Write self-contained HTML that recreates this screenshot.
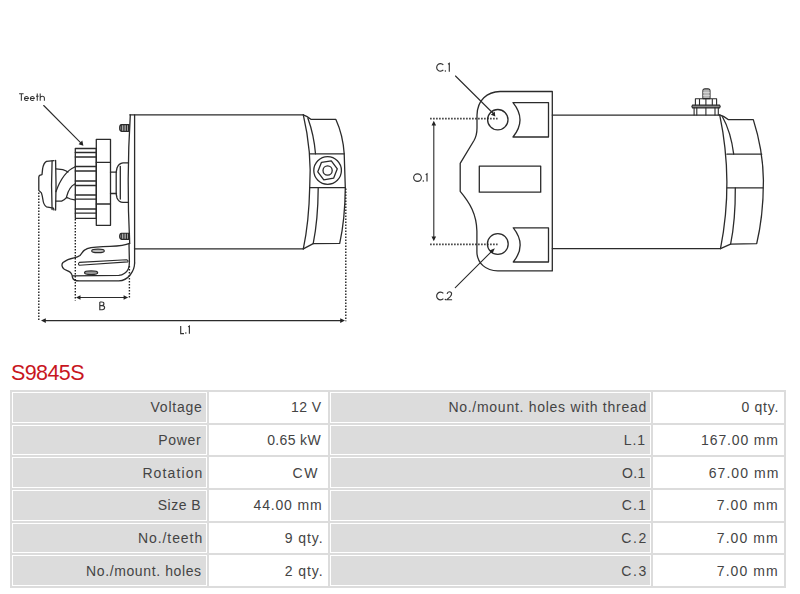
<!DOCTYPE html>
<html><head><meta charset="utf-8">
<style>
html,body{margin:0;padding:0;background:#fff;width:800px;height:594px;overflow:hidden;position:relative;font-family:"Liberation Sans",sans-serif;}
#title{position:absolute;left:11px;top:359px;font-size:21.5px;letter-spacing:-0.6px;line-height:28px;color:#c8161e;white-space:nowrap;}
#tbl{position:absolute;left:10px;top:390px;width:776px;height:198px;background:#dcdcdc;}
.c{position:absolute;box-sizing:border-box;height:31px;border:1px solid #fff;}
.l{background:#dcdcdc;}
.v{background:#fff;}
.t{position:absolute;font-size:14px;line-height:20px;color:#444;white-space:pre;}
svg{position:absolute;left:0;top:0;}
</style></head><body>
<svg width="800" height="360" viewBox="0 0 800 360">
<!-- ===== LEFT DRAWING ===== -->
<g fill="none" stroke="#2b2b2b" stroke-width="1.3" stroke-linejoin="round" stroke-linecap="round">
<!-- housing -->
<path d="M129.8,114.8 L303.3,114.8"/>
<path d="M134.5,248.8 L303.3,248.8"/>
<!-- end plate -->
<path d="M130.3,115 Q126.4,179 129.7,243.5"/>
<path d="M134.6,115 L134.6,263"/>
<!-- end cap -->
<path d="M303.3,114.8 Q312,152 309.7,187.6 Q309,222 303.3,248.9"/>
<path d="M303.3,114.8 Q307,116 311.2,119.4 L335.9,119.4 Q343,135 344.2,153.8"/>
<path d="M307.9,118.2 Q314,135 315.5,153.8"/>
<path d="M309.7,153.8 L344.2,153.8 L345.3,187.6 L309.7,187.6"/>
<path d="M318.2,188.3 Q318,220 313.2,243.6 L303.3,248.9"/>
<path d="M313.2,243.6 L339.7,243.3 Q345,220 345.3,187.6"/>
<circle cx="327.6" cy="170.5" r="13.8"/>
<path d="M321.5,162.3 L331.3,160.8 L337.3,168.8 L333.6,178.2 L323.8,179.8 L317.8,171.8 Z"/>
<circle cx="327.6" cy="170.5" r="4.6"/>
<!-- bolts -->
<path d="M129.3,124.6 L121.5,124.6 Q119.6,124.8 119.6,128 Q119.6,131.2 121.5,131.4 L129.3,131.4 Z M121.3,125 V131 M123.9,125 V131 M126.4,125 V131 M128.5,125 V131" stroke-width="1.1" fill="#aaa"/>
<path d="M129.5,233.2 L121.5,233.2 Q119.6,233.4 119.6,236.3 Q119.6,239.2 121.5,239.4 L129.5,239.4 Z M121.3,233.6 V239 M123.9,233.6 V239 M126.4,233.6 V239 M128.5,233.6 V239" stroke-width="1.1" fill="#aaa"/>
<!-- boss -->
<path d="M128.5,162.8 L123,162.8 Q118.8,163.2 117,168 L116.2,172 L116.2,194 L117,198 Q118.8,202.2 123,202.4 L128.5,202.4"/>
<path d="M120.3,166.5 L120.3,199"/>
<path d="M110.5,172.2 L116.5,172.2 M110.5,193.5 L116.5,193.5"/>
<!-- flange -->
<rect x="96.3" y="139.3" width="14.2" height="86"/>
<path d="M96.3,162.4 H110.5 M96.3,204 H110.5"/>
<!-- gear -->
<rect x="75.3" y="148.5" width="21" height="69.8"/>
<path d="M75.3,152.5 H96.3 M75.3,157 H96.3 M75.3,166.5 H96.3 M75.3,171 H96.3 M75.3,181 H96.3 M75.3,185.5 H96.3 M75.3,195 H96.3 M75.3,199.2 H96.3 M75.3,209 H96.3 M75.3,213.2 H96.3"/>
<!-- pinion -->
<path d="M54,160.7 L46.4,161.4 Q43.6,163 42.6,168.9 L42,174.6 L39.5,175.3 L38.8,177.1 L38.8,190.4 L41.4,192.9 Q42.4,196 42.8,199 Q43.5,205 46.4,206.8 L53.4,208.1 L54,210"/>
<path d="M52.1,161 Q51,185 52.1,209.5 M55.6,160.3 Q56.5,185 55.6,210"/>
<path d="M55.9,168.9 L62.8,169.6 Q66,170.5 67.9,172.1"/>
<path d="M55.9,191.7 Q63,172 74.8,167"/>
<path d="M66.6,196.7 Q69,187 74.8,184"/>
<path d="M55.9,201.1 L61.6,201.1 Q64.5,200 66.6,197.3 Q70,199.5 74.8,199.9"/>
<!-- bracket -->
<path d="M129.6,243.3 C127,244.5 122,245.8 110,246.4 L102.8,246.7 C95,247 88,247.5 84.8,249.9 C83,251 82,253 80,255.5 C78,257 76,257.5 74.1,257.8 C70,258.5 66,260 63,262.5 C61.5,264 61.5,267 64,269 C66,270.5 69,271 70.5,272.5 C72,274 72.5,275.5 72.5,277.5 C73,279.5 74,280.9 79.4,280.9 L118.8,280.9 C123,280.9 127,279 130.5,274.5 C133.5,270.5 134.6,268 134.6,263"/>
<path d="M72.5,275.9 L118.8,275.4 C123,275.2 127,272 128.3,269 C129.2,267 129.4,265 129.4,262 L129,243.5"/>
<path d="M79.4,262.4 L126.5,259.8 Q128.8,260.6 127.8,261.9 L79.4,265.3 Q77.6,263.9 79.4,262.4 Z" stroke-width="1.1"/>
<ellipse cx="98" cy="250.9" rx="6.3" ry="1.7" stroke-width="1.2" fill="#bbb"/>
<ellipse cx="91.1" cy="272.7" rx="6.6" ry="1.8" stroke-width="1.2" fill="#999"/>
<!-- teeth arrow -->
<path d="M43.7,105.5 L80.8,142.8" stroke-width="1.1"/>
<!-- dims -->
<path d="M80,297.5 L124,297.5 M45,320.6 L341,320.6" stroke-width="1.1"/>
</g>
<g fill="#222">
<path d="M83.4,145.8 L78.6,144.3 L82.3,140.6 Z"/>
<path d="M76,297.5 L80.5,295.3 L80.5,299.7 Z M128.1,297.5 L123.6,295.3 L123.6,299.7 Z"/>
<path d="M41,320.6 L45.8,318.2 L45.8,323 Z M345,320.6 L340.2,318.2 L340.2,323 Z"/>
</g>
<g fill="none" stroke="#222" stroke-width="1.4" stroke-dasharray="1.4 1.6">
<path d="M38.8,192.5 V321.3 M75.3,219 V300.6 M129.4,266 V299 M345.8,188.5 V321.3"/>
</g>
<g fill="none" stroke="#333" stroke-width="1.05"><path d="M19.1,93.7 H23.6 M21.35,93.7 V100.8"/><path d="M24.45,98.55 H28.45 A2.0,2.0 0 1 0 28.05,99.75"/><path d="M30.35,98.55 H34.35 A2.0,2.0 0 1 0 33.95,99.75"/><path d="M37.25,93.6 V100.8 M36,96.3 H38.6"/><path d="M40.2,93.4 V100.8 M40.2,98 Q40.6,96.3 42.3,96.3 Q44.4,96.3 44.4,98.3 V100.8"/>
</g>
<!-- ===== RIGHT DRAWING ===== -->
<g fill="none" stroke="#2b2b2b" stroke-width="1.3" stroke-linejoin="round" stroke-linecap="round">
<path d="M500,91.5 C487,92 477.5,100 477,115 L477,128 C477,133 476,137 474,140.5 L460.2,163.3 L460.2,191.3 C470,203 476.5,214 476.9,231 L476.9,252 C477,263 486,271 498,270.9 L552.3,270.9 L552.3,91.5 Z"/>
<path d="M513,102.6 L548.5,102.6 L548.5,137 L513,137 Q527,119.8 513,102.6 Z"/>
<path d="M513.3,227.8 L548.5,227.8 L548.5,262 L513.3,262 Q527,244.9 513.3,227.8 Z"/>
<rect x="479.3" y="166.1" width="61.4" height="26.1"/>
<circle cx="497.8" cy="119.7" r="10.2"/>
<circle cx="497.8" cy="244" r="10.4"/>
<!-- housing -->
<path d="M552.3,115.1 L719.7,115.1 M552.3,248.6 L720.5,248.6"/>
<!-- end cap -->
<path d="M719.7,114.8 Q733.7,181.7 720.5,248.6"/>
<path d="M719.7,114.8 Q724,116 728.1,119.6 L753.3,119.6 Q763,150 763.4,180 Q763.5,215 756.7,243.6 L730.6,244.1 L720.5,248.6"/>
<path d="M722.2,116.2 Q731,132 733.7,154.2"/>
<path d="M735.3,187.9 Q735.5,220 730.6,244.1"/>
<path d="M726.9,154.2 L761.7,154.2 M727.3,187.9 L763,187.9"/>
<!-- terminal -->
<path d="M702.9,98.6 L702.9,90.8 Q702.9,88.8 705,88.8 L708,88.8 Q710,88.8 710,90.8 L710,98.6 Z" stroke-width="1.1" fill="#999"/>
<path d="M703.4,91 H709.5 M703.4,92.5 H709.5 M703.4,94 H709.5 M703.4,95.5 H709.5 M703.4,97 H709.5" stroke-width="0.7" stroke="#eee"/>
<path d="M695.4,105.4 L695.4,98.8 L716.6,98.8 L716.6,105.4 M699.5,98.8 V105.4 M705.9,98.8 V105.4 M712.3,98.8 V105.4" stroke-width="1.1"/>
<path d="M692.5,105.2 L719.6,105.2 Q720.8,106.5 719.6,107.9 L692.5,107.9 Q691.3,106.5 692.5,105.2 Z" stroke-width="1.2" fill="#888"/>
<path d="M694.1,107.9 V115 M696.8,107.9 V115 M705.9,107.9 V115 M715,107.9 V115 M718.3,107.9 V115" stroke-width="1.1"/>
<!-- arrows -->
<path d="M455.5,76 L492.8,113 M455.3,287.7 L492.2,250.8 M433.8,125 L433.8,237" stroke-width="1.1"/>
</g>
<g fill="#222">
<path d="M495.3,116.4 L490.9,114.7 L494.7,111.4 Z"/>
<path d="M494.8,248.2 L492.5,253.4 L489.6,250.5 Z"/>
<path d="M433.8,120.7 L431.5,125.5 L436.1,125.5 Z M433.8,241.3 L431.5,236.5 L436.1,236.5 Z"/>
</g>
<g fill="none" stroke="#222" stroke-width="1.4" stroke-dasharray="1.4 1.6">
<path d="M430.2,118.6 H497.5 M430.2,244.4 H497.5" stroke-width="1.6"/>
</g>
<g fill="none" stroke="#333" stroke-width="1.15" stroke-linecap="butt" stroke-linejoin="miter">
<path d="M443.32,64.86 A3.8,3.8 0 1 0 443.32,69.94"/>
<path d="M448.00,64.30 L449.30,63.40 L449.30,71.70"/>
<ellipse cx="417.5" cy="177.6" rx="3.85" ry="3.75"/>
<path d="M425.70,174.70 L427.00,173.80 L427.00,181.60"/>
<path d="M443.36,293.42 A3.85,3.85 0 1 0 443.36,298.58"/>
<path d="M447.1,294 Q447.5,291.7 449.3,291.7 Q451.6,291.7 451.6,293.8 Q451.6,295.2 450,296.8 L446.9,299.7 L452.1,299.7"/>
<path d="M180.7,326 L180.7,333.6 L184,333.6"/>
<path d="M188.10,326.90 L189.40,326.00 L189.40,333.70"/>
<path d="M99.8,302 L99.8,309.7 L102.2,309.7 Q104.6,309.7 104.6,307.6 Q104.6,305.6 102,305.6 L99.8,305.6 M99.8,302 L101.8,302 Q103.9,302 103.9,303.8 Q103.9,305.6 101.8,305.6"/>
</g>
<g fill="#333"><circle cx="445.4" cy="71.0" r="0.75"/><circle cx="423.3" cy="181.0" r="0.75"/><circle cx="445.4" cy="299.4" r="0.75"/><circle cx="185.8" cy="333.0" r="0.75"/></g>
</svg>

<div id="title">S9845S</div>
<div id="tbl"></div>
<div class="c l" style="left:12px;top:392px;width:195px;height:31px"></div>
<div class="c v" style="left:209px;top:392px;width:119px;height:31px"></div>
<div class="c l" style="left:330px;top:392px;width:321px;height:31px"></div>
<div class="c v" style="left:653px;top:392px;width:131px;height:31px"></div>
<div class="c l" style="left:12px;top:425px;width:195px;height:30px"></div>
<div class="c v" style="left:209px;top:425px;width:119px;height:30px"></div>
<div class="c l" style="left:330px;top:425px;width:321px;height:30px"></div>
<div class="c v" style="left:653px;top:425px;width:131px;height:30px"></div>
<div class="c l" style="left:12px;top:457px;width:195px;height:31px"></div>
<div class="c v" style="left:209px;top:457px;width:119px;height:31px"></div>
<div class="c l" style="left:330px;top:457px;width:321px;height:31px"></div>
<div class="c v" style="left:653px;top:457px;width:131px;height:31px"></div>
<div class="c l" style="left:12px;top:490px;width:195px;height:31px"></div>
<div class="c v" style="left:209px;top:490px;width:119px;height:31px"></div>
<div class="c l" style="left:330px;top:490px;width:321px;height:31px"></div>
<div class="c v" style="left:653px;top:490px;width:131px;height:31px"></div>
<div class="c l" style="left:12px;top:523px;width:195px;height:30px"></div>
<div class="c v" style="left:209px;top:523px;width:119px;height:30px"></div>
<div class="c l" style="left:330px;top:523px;width:321px;height:30px"></div>
<div class="c v" style="left:653px;top:523px;width:131px;height:30px"></div>
<div class="c l" style="left:12px;top:555px;width:195px;height:31px"></div>
<div class="c v" style="left:209px;top:555px;width:119px;height:31px"></div>
<div class="c l" style="left:330px;top:555px;width:321px;height:31px"></div>
<div class="c v" style="left:653px;top:555px;width:131px;height:31px"></div>
<span class="t" style="left:150.5px;top:397.0px;letter-spacing:0.783px">Voltage</span>
<span class="t" style="left:290.9px;top:397.0px;letter-spacing:0.467px">12 V</span>
<span class="t" style="left:448.4px;top:397.0px;letter-spacing:0.726px">No./mount. holes with thread</span>
<span class="t" style="left:741.5px;top:397.0px;letter-spacing:0.720px">0 qty.</span>
<span class="t" style="left:158.3px;top:429.7px;letter-spacing:0.650px">Power</span>
<span class="t" style="left:267.2px;top:429.7px;letter-spacing:0.350px">0.65 kW</span>
<span class="t" style="left:623.8px;top:429.7px;letter-spacing:0.950px">L.1</span>
<span class="t" style="left:701.1px;top:429.7px;letter-spacing:0.862px">167.00 mm</span>
<span class="t" style="left:142.4px;top:462.5px;letter-spacing:1.114px">Rotation</span>
<span class="t" style="left:292.6px;top:462.5px;letter-spacing:1.500px">CW</span>
<span class="t" style="left:621.9px;top:462.5px;letter-spacing:0.400px">O.1</span>
<span class="t" style="left:708.8px;top:462.5px;letter-spacing:1.036px">67.00 mm</span>
<span class="t" style="left:157.8px;top:495.2px;letter-spacing:0.480px">Size B</span>
<span class="t" style="left:253.5px;top:495.2px;letter-spacing:0.843px">44.00 mm</span>
<span class="t" style="left:621.8px;top:495.2px;letter-spacing:1.050px">C.1</span>
<span class="t" style="left:716.8px;top:495.2px;letter-spacing:1.067px">7.00 mm</span>
<span class="t" style="left:137.9px;top:528.0px;letter-spacing:0.938px">No./teeth</span>
<span class="t" style="left:284.8px;top:528.0px;letter-spacing:0.920px">9 qty.</span>
<span class="t" style="left:621.2px;top:528.0px;letter-spacing:1.600px">C.2</span>
<span class="t" style="left:716.8px;top:528.0px;letter-spacing:1.067px">7.00 mm</span>
<span class="t" style="left:86.1px;top:560.7px;letter-spacing:0.607px">No./mount. holes</span>
<span class="t" style="left:284.8px;top:560.7px;letter-spacing:0.920px">2 qty.</span>
<span class="t" style="left:621.2px;top:560.7px;letter-spacing:1.600px">C.3</span>
<span class="t" style="left:716.8px;top:560.7px;letter-spacing:1.067px">7.00 mm</span>
</body></html>
